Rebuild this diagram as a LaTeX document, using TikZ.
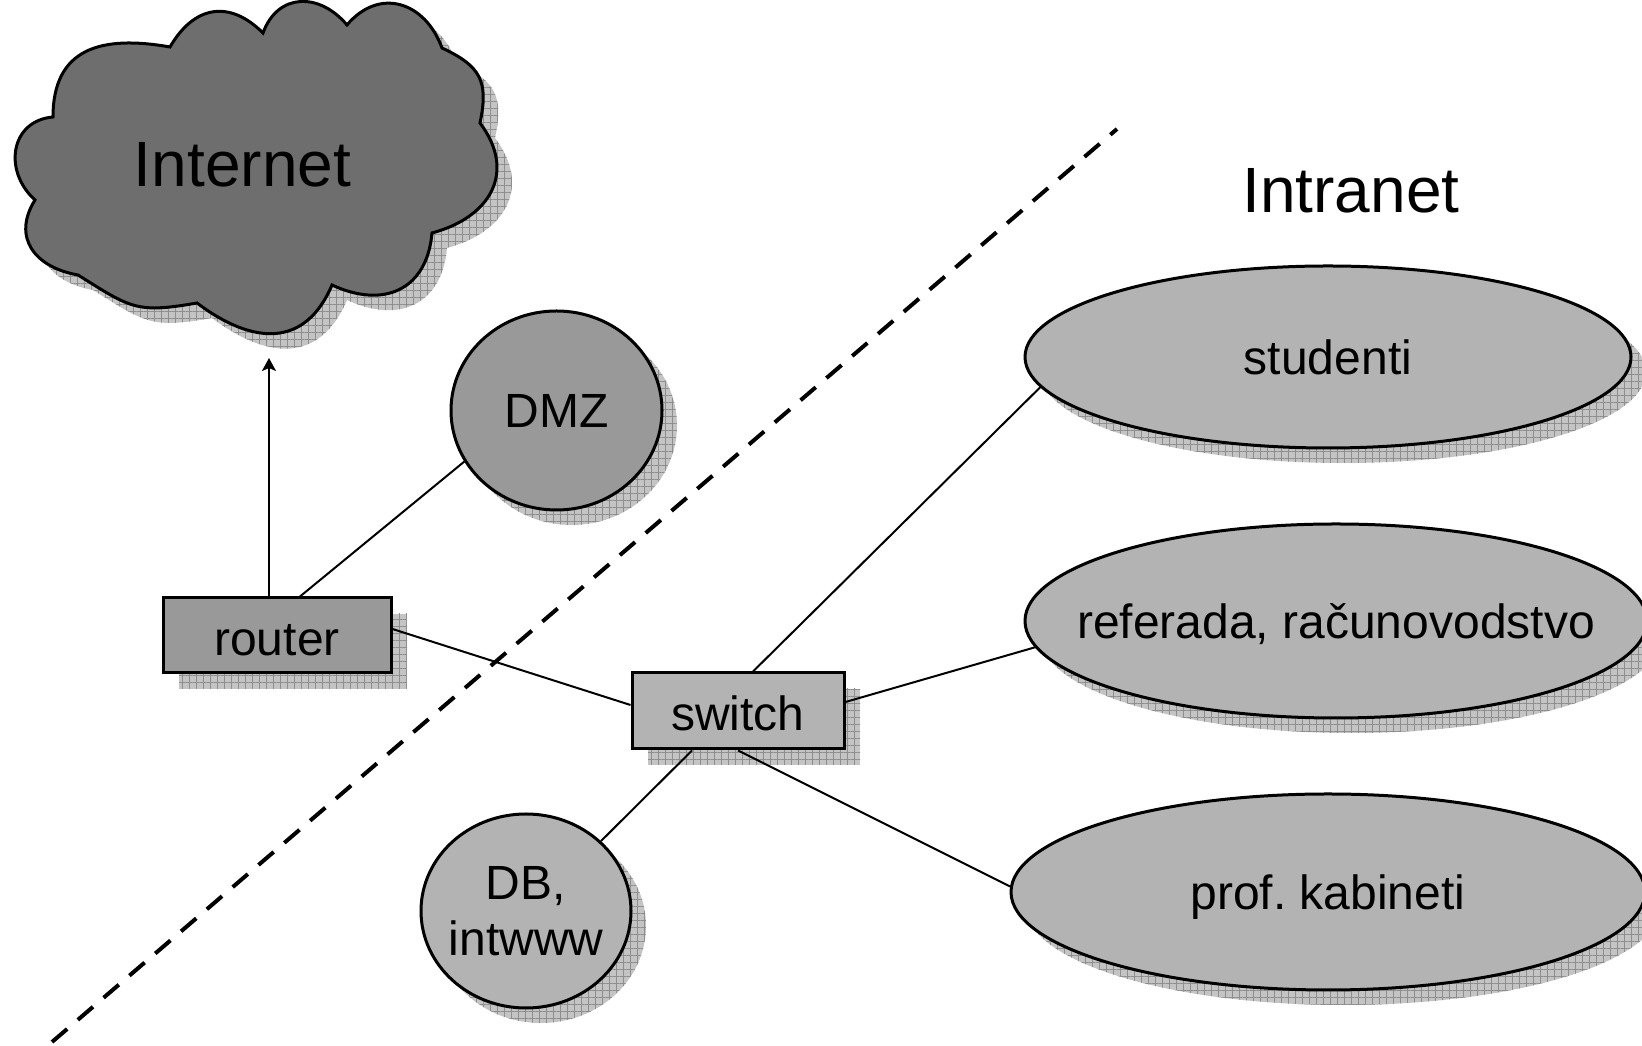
\documentclass[tikz,border=0pt]{standalone}
\usepackage{fontspec}
\setmainfont{Liberation Sans}
\frenchspacing
\usetikzlibrary{shapes.geometric,arrows.meta,patterns.meta,calc}
\definecolor{clouddark}{HTML}{6E6E6E}
\definecolor{midgray}{HTML}{999999}
\definecolor{lightfill}{HTML}{B3B3B3}
\definecolor{shadowbg}{HTML}{C4C4C4}
\definecolor{shadowline}{HTML}{8E8E8E}
\pgfdeclarelayer{bglayer}
\pgfdeclarelayer{shadowlayer}
\pgfdeclarelayer{connlayer}
\pgfsetlayers{bglayer,shadowlayer,connlayer,main}
\tikzset{
  shapeline/.style={draw=black, line width=3pt},
  boxnode/.style={rectangle, shapeline, inner sep=0pt, font=\fontsize{48}{56}\selectfont, text height=40pt, text depth=0pt},
  ellnode/.style={ellipse, shapeline, inner sep=0pt},
  lbl/.style={inner sep=0pt, font=\fontsize{48}{56}\selectfont, text depth=0pt},
  biglbl/.style={inner sep=0pt, font=\fontsize{64}{72}\selectfont, text depth=0pt},
  shadowfill/.style={preaction={fill=shadowbg}, pattern={Hatch[angle=0,distance=7pt,line width=0.8pt]}, pattern color=shadowline},
  conn/.style={draw=black, line width=2pt},
  divider/.style={draw=black, line width=4pt, dash pattern=on 20pt off 14pt},
}
\def\cloudpath{(53,929) to[out=90,in=170] (170,999) to[out=60,in=135] (263,1013)
  to[out=70,in=130] (347,1021) to[out=50,in=110] (442,998) to[out=-25,in=78] (480,923)
  to[out=-53,in=15] (432,813) to[out=-95,in=-25] (332,761) to[out=-113,in=-37] (197,743)
  to[out=190,in=-32] (78,771) to[out=170,in=238] (35,846) to[out=138,in=185] (53,929) -- cycle}
\begin{document}
\begin{tikzpicture}[x=1pt,y=1pt]
\useasboundingbox (0,0) rectangle (1642,1046);
\begin{pgfonlayer}{bglayer}
  \fill[white] (0,0) rectangle (1642,1046);
\end{pgfonlayer}

% cloud
\path[shapeline, fill=clouddark, looseness=1.3] \cloudpath;
\node[biglbl] (internet) at (242.5,882) {Internet};
\coordinate (cloudbottom) at (269,688);

% boxes
\node[boxnode, fill=midgray, minimum width=228pt, minimum height=75pt] (router) at (277,410.5) {router};
\node[boxnode, fill=lightfill, minimum width=212pt, minimum height=76pt] (switch) at (738,335) {switch};

% circles
\node[ellnode, fill=midgray, minimum width=211pt, minimum height=199pt] (dmz) at (556.5,635.5) {};
\node[lbl] (dmzT) at (dmz) {DMZ};
\node[ellnode, fill=lightfill, minimum width=210pt, minimum height=194pt] (db) at (526,135) {};
\node[lbl, align=center] (dbT) at (db) {DB,\\intwww};

% intranet ellipses
\node[biglbl] (intranet) at (1351,856) {Intranet};
\node[ellnode, fill=lightfill, minimum width=606pt, minimum height=182pt] (studenti) at (1328,689) {};
\node[lbl] (studentiT) at (studenti) {studenti};
\node[ellnode, fill=lightfill, minimum width=622pt, minimum height=194pt] (referada) at (1336,425) {};
\node[lbl] (referadaT) at (referada) {referada, računovodstvo};
\node[ellnode, fill=lightfill, minimum width=634pt, minimum height=196pt] (prof) at (1328,154) {};
\node[lbl] (profT) at (prof) {prof. kabineti};

% shadows
\begin{pgfonlayer}{shadowlayer}
  \path[shadowfill, shift={(15,-15)}, looseness=1.3] \cloudpath;
  \path[shadowfill] ($(router)+(16,-16)$) +(-114,-37.5) rectangle +(114,37.5);
  \path[shadowfill] ($(switch)+(16,-16)$) +(-106,-38) rectangle +(106,38);
  \path[shadowfill] ($(dmz)+(15,-15)$) ellipse [x radius=105.5, y radius=99.5];
  \path[shadowfill] ($(db)+(15,-15)$) ellipse [x radius=105, y radius=97];
  \path[shadowfill] ($(studenti)+(15,-15)$) ellipse [x radius=303, y radius=91];
  \path[shadowfill] ($(referada)+(15,-15)$) ellipse [x radius=311, y radius=97];
  \path[shadowfill] ($(prof)+(15,-15)$) ellipse [x radius=317, y radius=98];
\end{pgfonlayer}

% connectors
\begin{pgfonlayer}{connlayer}
  \coordinate (divA) at (52,4);
  \coordinate (divB) at (1117,917);
  \draw[divider] (divA) -- (divB);
  \draw[conn, -{Stealth[length=13pt,width=14pt,inset=3pt]}] (router.north -| cloudbottom) -- (cloudbottom);
  \draw[conn] ([xshift=23pt]router.north) -- (dmz.209);
  \draw[conn] ([yshift=6.5pt]router.east) -- ([yshift=6pt]switch.west);
  \draw[conn] ([xshift=15pt]switch.north) -- (studenti.186);
  \draw[conn] ([yshift=9pt]switch.east) -- (referada.185);
  \draw[conn] ([xshift=-46pt]switch.south) -- (db.43);
  \draw[conn] (switch.south) -- (prof.179);
\end{pgfonlayer}
\end{tikzpicture}
\end{document}
